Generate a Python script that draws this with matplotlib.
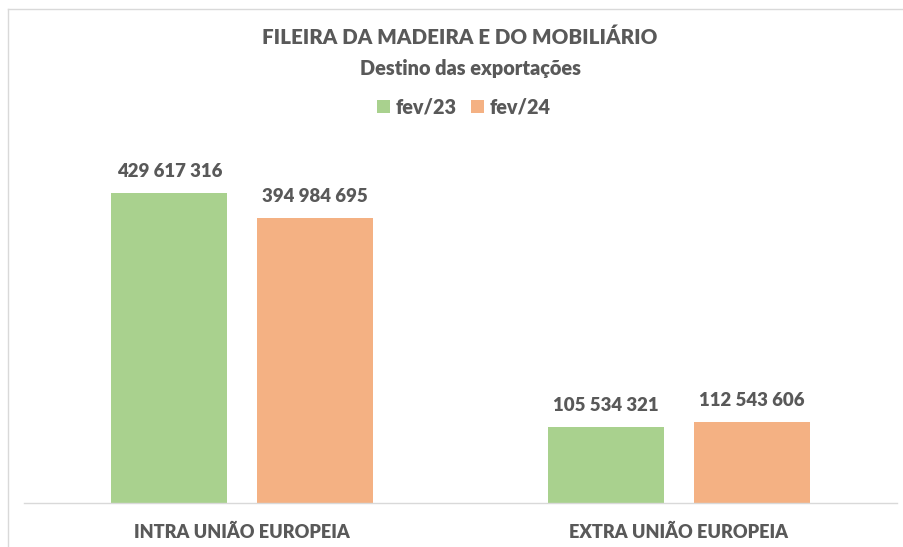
import matplotlib.pyplot as plt
from matplotlib.lines import Line2D
from matplotlib.patches import Patch

plt.rcParams['font.family'] = ['Lato', 'DejaVu Sans']

# Export destinations, February of each year (EUR)
categories = ["INTRA UNIÃO EUROPEIA", "EXTRA UNIÃO EUROPEIA"]
series_names = ["fev/23", "fev/24"]
fev23 = [429617316, 105534321]
fev24 = [394984695, 112543606]

colors = ["#a9d18e", "#f4b183"]
text_color = "#595959"
weight = "heavy"

fig = plt.figure(figsize=(9.04, 5.47), dpi=100)
ax = fig.add_axes([24 / 904, 44 / 547, 873 / 904, 363 / 547])

x = list(range(len(categories)))
width = 0.266
offset = 0.167

for vals, off, col in [(fev23, -offset, colors[0]), (fev24, offset, colors[1])]:
    pos = [i + off for i in x]
    bars = ax.bar(pos, vals, width=width, color=col)
    for b, v in zip(bars, vals):
        label = f"{v:,}".replace(",", " ")
        ax.annotate(label, (b.get_x() + b.get_width() / 2, v),
                    xytext=(0, 9), textcoords="offset points",
                    ha="center", va="bottom", fontsize=13.4,
                    fontweight=weight, color=text_color)

ax.set_xlim(-0.5, 1.5)
ax.set_ylim(0, 503e6)
ax.set_yticks([])
ax.set_xticks(x)
ax.set_xticklabels(categories, fontsize=13.1, fontweight=weight, color=text_color)
ax.tick_params(axis="x", length=0, pad=15)
for s in ["top", "right", "left"]:
    ax.spines[s].set_visible(False)
ax.spines["bottom"].set_color("#d9d9d9")
ax.spines["bottom"].set_linewidth(1)

# title
fig.text(460 / 904, 1 - 37 / 547, "FILEIRA DA MADEIRA E DO MOBILIÁRIO", ha="center", va="center",
         fontsize=14.8, fontweight=weight, color=text_color)
fig.text(471 / 904, 1 - 68 / 547, "Destino das exportações", ha="center", va="center",
         fontsize=14.3, fontweight=weight, color=text_color)

# legend
handles = [Patch(facecolor=c, edgecolor="none") for c in colors]
fig.legend(handles, series_names, loc="center", bbox_to_anchor=(464 / 904, 1 - 107 / 547),
           ncol=2, frameon=False, handlelength=0.65, handleheight=0.65,
           columnspacing=0.7, handletextpad=0.3,
           prop={"size": 14.2, "weight": weight}, labelcolor=text_color)

# chart frame (left and top edges)
fig.add_artist(Line2D([8 / 904, 8 / 904], [0, 1 - 9 / 547], transform=fig.transFigure,
                      color="#d9d9d9", lw=1))
fig.add_artist(Line2D([8 / 904, 1], [1 - 9 / 547, 1 - 9 / 547], transform=fig.transFigure,
                      color="#d9d9d9", lw=1))

fig.savefig("out.png", dpi=100)
